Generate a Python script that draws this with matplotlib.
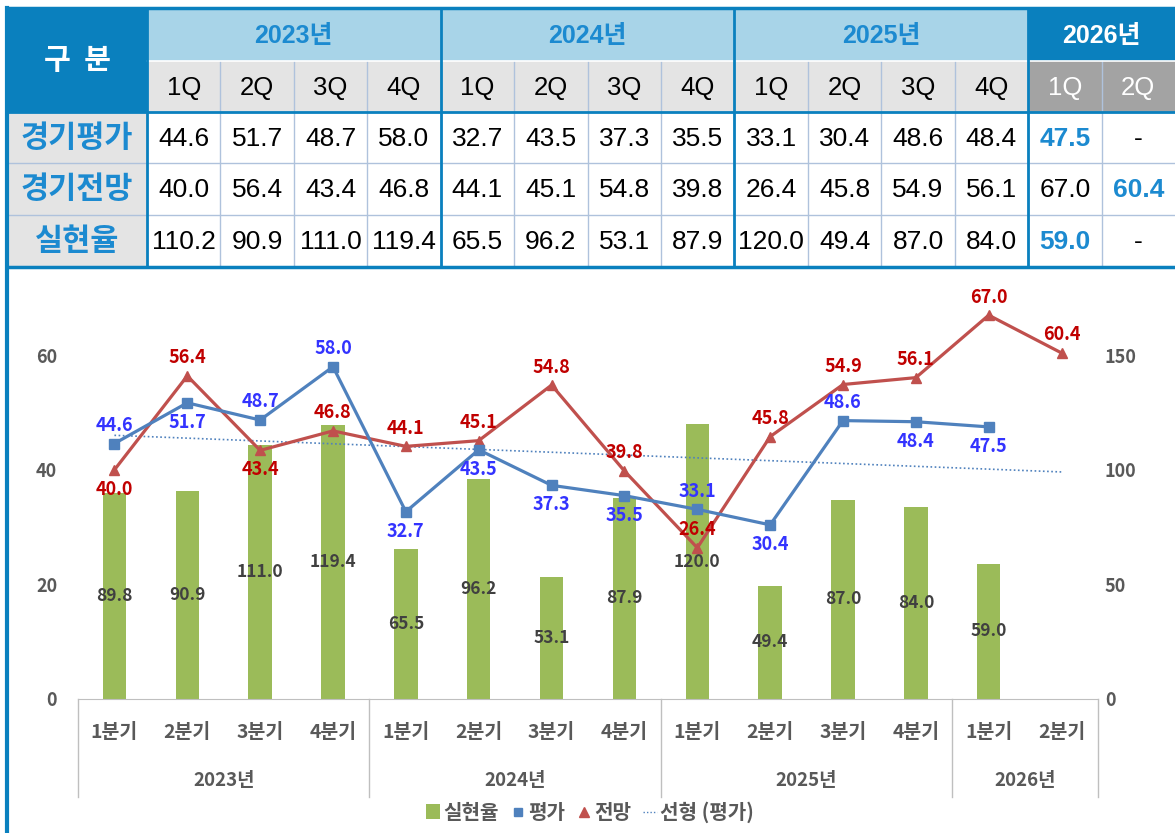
import numpy as np
import matplotlib
matplotlib.use("Agg")
import matplotlib.pyplot as plt
from matplotlib.patches import Rectangle
from matplotlib.lines import Line2D

# ---- data ----
years = ["2023년", "2024년", "2025년", "2026년"]
year_cols = [4, 4, 4, 2]
quarters = ["1Q", "2Q", "3Q", "4Q"] * 3 + ["1Q", "2Q"]
row_names = ["경기평가", "경기전망", "실현율"]

t_eval = ["44.6", "51.7", "48.7", "58.0", "32.7", "43.5", "37.3", "35.5",
          "33.1", "30.4", "48.6", "48.4", "47.5", "-"]
t_outlook = ["40.0", "56.4", "43.4", "46.8", "44.1", "45.1", "54.8", "39.8",
             "26.4", "45.8", "54.9", "56.1", "67.0", "60.4"]
t_real = ["110.2", "90.9", "111.0", "119.4", "65.5", "96.2", "53.1", "87.9",
          "120.0", "49.4", "87.0", "84.0", "59.0", "-"]
highlight = {(0, 12), (1, 13), (2, 12)}

cat_labels = ["1분기", "2분기", "3분기", "4분기"] * 3 + ["1분기", "2분기"]
evaluation = [44.6, 51.7, 48.7, 58.0, 32.7, 43.5, 37.3, 35.5,
              33.1, 30.4, 48.6, 48.4, 47.5, np.nan]
outlook = [40.0, 56.4, 43.4, 46.8, 44.1, 45.1, 54.8, 39.8,
           26.4, 45.8, 54.9, 56.1, 67.0, 60.4]
realization = [89.8, 90.9, 111.0, 119.4, 65.5, 96.2, 53.1, 87.9,
               120.0, 49.4, 87.0, 84.0, 59.0, np.nan]
eval_pos = ["up", "down", "up", "up", "down", "down", "down", "down",
            "up", "down", "up", "down", "down", None]
outl_pos = ["down", "up", "down", "up", "up", "up", "up", "up",
            "up", "up", "up", "up", "up", "up"]

# ---- colors ----
DARK = "#0A80BE"
LIGHT = "#A8D4E8"
GRAY = "#E4E4E4"
DGRAY = "#A3A3A3"
TBLUE = "#1C8AD0"
GRID = "#AFC2DC"

NUMF = ["Liberation Sans", "Noto Sans CJK KR"]
KRF = ["Noto Sans CJK KR", "DejaVu Sans"]
plt.rcParams["font.family"] = KRF

fig = plt.figure(figsize=(11.75, 8.33), dpi=100)

# ---- table (pixel coordinates) ----
tb = fig.add_axes([0, 0, 1, 1])
tb.set_xlim(0, 1175)
tb.set_ylim(833, 0)
tb.axis("off")

x0, x1, xr = 7, 147, 1175
cw = (xr - x1) / 14
ys = [8, 61, 112, 163, 215, 267]
cx = [x1 + cw * i for i in range(15)]


def cell(xa, xb, ya, yb, fc):
    tb.add_patch(Rectangle((xa, ya), xb - xa, yb - ya, fc=fc, ec="none"))


cell(x0, x1, ys[0], ys[2], DARK)
tb.text((x0 + x1) / 2, (ys[0] + ys[2]) / 2, "구  분", color="white", fontsize=21,
        fontweight="bold", ha="center", va="center", family=KRF)

c = 0
for yr, n in zip(years, year_cols):
    last = yr == "2026년"
    cell(cx[c], cx[c + n], ys[0], ys[1], DARK if last else LIGHT)
    tb.text((cx[c] + cx[c + n]) / 2, (ys[0] + ys[1]) / 2 + 1, yr,
            color="white" if last else TBLUE, fontsize=18, ha="center", va="center",
            family=NUMF, fontweight="bold")
    c += n

for i, q in enumerate(quarters):
    last = i >= 12
    cell(cx[i], cx[i + 1], ys[1], ys[2], DGRAY if last else GRAY)
    tb.text((cx[i] + cx[i + 1]) / 2, (ys[1] + ys[2]) / 2 + 1, q,
            color="white" if last else "black", fontsize=18.5, ha="center",
            va="center", family=NUMF)

for r, (name, vals) in enumerate(zip(row_names, [t_eval, t_outlook, t_real])):
    ya, yb = ys[r + 2], ys[r + 3]
    cell(x0, x1, ya, yb, GRAY)
    tb.text((x0 + x1) / 2, (ya + yb) / 2, name, color=TBLUE, fontsize=22,
            fontweight="bold", ha="center", va="center", family=KRF)
    for i, v in enumerate(vals):
        hl = (r, i) in highlight
        tb.text((cx[i] + cx[i + 1]) / 2, (ya + yb) / 2 + 1, v,
                color=TBLUE if hl else "black", fontsize=19,
                fontweight="bold" if hl else "normal",
                ha="center", va="center", family=NUMF)

# thin grid lines
for i in range(1, 14):
    tb.plot([cx[i], cx[i]], [ys[1], ys[5]], color=GRID, lw=1)
tb.plot([x1, xr], [ys[1], ys[1]], color="white", lw=1.2)
for y in ys[3:5]:
    tb.plot([x0, xr], [y, y], color=GRID, lw=1)
# heavy blue lines
for i in [0, 4, 8, 12]:
    tb.plot([cx[i], cx[i]], [ys[0], ys[5]], color=DARK, lw=2)
tb.plot([x0, xr], [ys[2], ys[2]], color=DARK, lw=2)
tb.plot([x0, xr], [ys[0], ys[0]], color=DARK, lw=2.5)
tb.plot([x0, xr], [ys[5], ys[5]], color=DARK, lw=2.5)
tb.plot([x0, x0], [ys[0], 833], color=DARK, lw=3)

# ---- chart ----
ax = fig.add_axes([78 / 1175, (833 - 699) / 833, (1098 - 78) / 1175, (699 - 298) / 833])
ax2 = ax.twinx()
x = np.arange(len(cat_labels))

ax2.bar(x, realization, width=0.32, color="#9BBB59", zorder=2)
for xi, v in zip(x, realization):
    if not np.isnan(v):
        ax2.text(xi, v / 2, f"{v:.1f}", ha="center", va="center", fontsize=12.5,
                 fontweight="bold", color="#404040")
ax2.set_ylim(0, 175)
ax2.set_yticks([0, 50, 100, 150])

ax.set_zorder(ax2.get_zorder() + 1)
ax.patch.set_visible(False)

ev = np.array(evaluation)
m = ~np.isnan(ev)
coef = np.polyfit(x[m] + 1, ev[m], 1)
ax.plot(x, np.polyval(coef, x + 1), ls=(0, (1, 1.5)), color="#4F81BD", lw=1.2)

ax.plot(x, outlook, color="#C0504D", lw=2.3, marker="^", ms=7.5)
ax.plot(x, evaluation, color="#4F81BD", lw=2.3, marker="s", ms=6.5)

for xi, v, p in zip(x, evaluation, eval_pos):
    if p:
        ax.annotate(f"{v:.1f}", (xi, v), xytext=(0, 13 if p == "up" else -14),
                    textcoords="offset points", ha="center", va="center",
                    fontsize=13, fontweight="bold", color="#3333FF")
for xi, v, p in zip(x, outlook, outl_pos):
    ax.annotate(f"{v:.1f}", (xi, v), xytext=(0, 13 if p == "up" else -14),
                textcoords="offset points", ha="center", va="center",
                fontsize=13, fontweight="bold", color="#C00000")

ax.set_ylim(0, 70)
ax.set_yticks([0, 20, 40, 60])
ax.set_xlim(-0.5, 13.5)
ax.set_xticks([])

for a in (ax, ax2):
    for s in ["top", "left", "right", "bottom"]:
        a.spines[s].set_visible(False)
    a.tick_params(axis="y", length=0, labelsize=13, labelcolor="#595959")
ax.tick_params(axis="y", pad=15)
ax2.tick_params(axis="y", pad=5)
for lab in ax.get_yticklabels() + ax2.get_yticklabels():
    lab.set_fontweight("bold")

ax.spines["bottom"].set_visible(True)
ax.spines["bottom"].set_color("#BFBFBF")

trans = ax.get_xaxis_transform()
hpx = 699 - 298
for sx in [-0.5, 3.5, 7.5, 11.5, 13.5]:
    ax.plot([sx, sx], [0, -98 / hpx], color="#BFBFBF", lw=1, transform=trans, clip_on=False)
for xi, lab in zip(x, cat_labels):
    ax.text(xi, -33 / hpx, lab, transform=trans, ha="center", va="center",
            fontsize=14, fontweight="bold", color="#595959")
start = 0
for yr, n in zip(years, year_cols):
    ax.text(start + (n - 1) / 2, -82 / hpx, yr, transform=trans, ha="center",
            va="center", fontsize=13.5, fontweight="bold", color="#595959")
    start += n

handles = [
    Rectangle((0, 0), 1, 1, fc="#9BBB59"),
    Line2D([], [], color="#4F81BD", marker="s", ms=6, lw=0),
    Line2D([], [], color="#C0504D", marker="^", ms=7, lw=0),
    Line2D([], [], color="#4F81BD", ls=(0, (1, 1.5)), lw=1),
]
fig.legend(handles, ["실현율", "평가", "전망", "선형 (평가)"], loc="center",
           bbox_to_anchor=(590 / 1175, (833 - 812) / 833), ncol=4, frameon=False,
           handlelength=0.7, handletextpad=0.15, columnspacing=0.6,
           prop={"family": KRF, "size": 14.5, "weight": "bold"}, labelcolor="#595959")

fig.savefig("out.png", dpi=100)
